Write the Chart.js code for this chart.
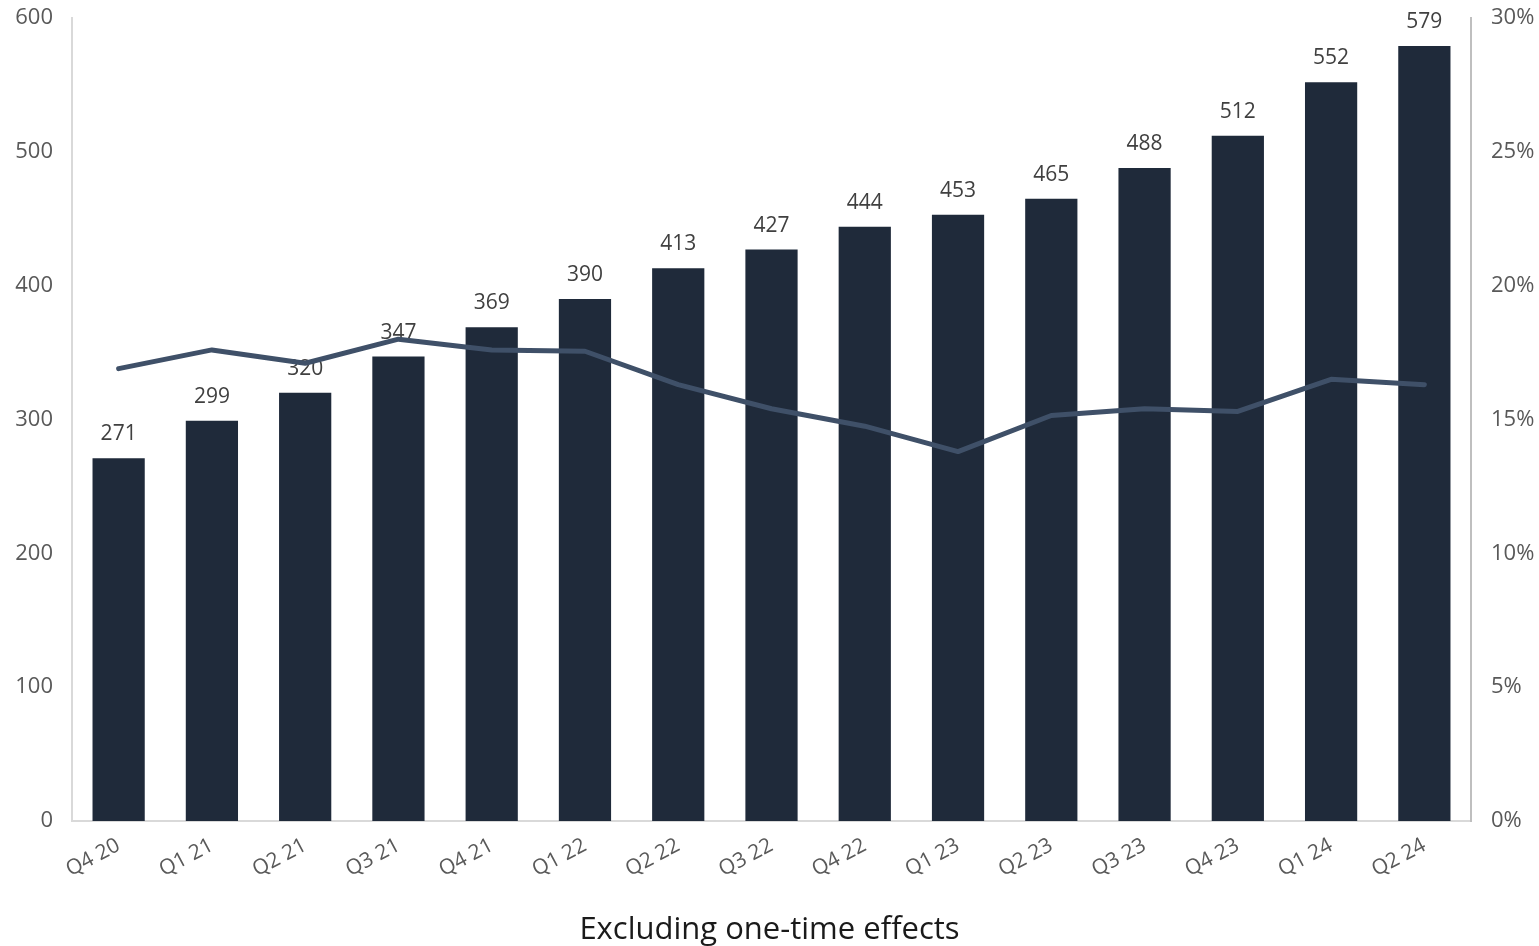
<!DOCTYPE html>
<html>
<head>
<meta charset="utf-8">
<script src="https://cdn.jsdelivr.net/npm/chart.js@4.4.0/dist/chart.umd.min.js"></script>
<style>
html,body{margin:0;padding:0;background:#fff;}
#wrap{width:1539px;height:946px;position:relative;}
</style>
</head>
<body>
<div id="wrap"><canvas id="c" width="1539" height="946"></canvas></div>
<script>
const categories = ["Q4 20","Q1 21","Q2 21","Q3 21","Q4 21","Q1 22","Q2 22","Q3 22","Q4 22","Q1 23","Q2 23","Q3 23","Q4 23","Q1 24","Q2 24"];
const barValues = [271,299,320,347,369,390,413,427,444,453,465,488,512,552,579];
const marginPct = [16.9,17.6,17.1,18.0,17.6,17.55,16.3,15.4,14.75,13.8,15.15,15.4,15.3,16.5,16.3];
const leftTicks = [0,100,200,300,400,500,600];
const rightTicks = [0,5,10,15,20,25,30];
const titleText = "Excluding one-time effects";

const FONT = "'Open Sans', sans-serif";

const barLabels = {
  id: 'barLabels',
  afterDatasetDraw(chart, args) {
    if (args.index !== 0) return;
    const ctx = chart.ctx;
    const meta = args.meta;
    ctx.save();
    ctx.font = "21px " + FONT;
    ctx.fillStyle = "#404040";
    ctx.textAlign = "center";
    ctx.textBaseline = "alphabetic";
    meta.data.forEach((el, i) => {
      ctx.fillText(String(barValues[i]), el.x, el.y - 18);
    });
    ctx.restore();
  }
};

function fixY(width) {
  return function(scale) {
    scale.width = width;
    scale.paddingTop = 0;
    scale.paddingBottom = 0;
  };
}

new Chart(document.getElementById('c'), {
  data: {
    labels: categories,
    datasets: [
      {
        type: 'bar',
        data: barValues,
        yAxisID: 'y',
        backgroundColor: '#1f2a3a',
        barPercentage: 0.56,
        categoryPercentage: 1.0,
        order: 2
      },
      {
        type: 'line',
        data: marginPct,
        yAxisID: 'y1',
        borderColor: '#3f5068',
        borderWidth: 5,
        pointRadius: 0,
        borderCapStyle: 'round',
        borderJoinStyle: 'round',
        tension: 0,
        fill: false,
        order: 1
      }
    ]
  },
  options: {
    responsive: false,
    animation: false,
    layout: { padding: { top: 18, left: 0, right: 0, bottom: 0 } },
    plugins: {
      legend: { display: false },
      tooltip: { enabled: false },
      title: {
        display: true,
        position: 'bottom',
        text: titleText,
        color: '#1a1a1a',
        font: { family: FONT, size: 31, weight: '400', lineHeight: 1.0 },
        padding: { top: 10, bottom: 0 }
      }
    },
    scales: {
      x: {
        offset: true,
        grid: { display: false, drawTicks: false },
        border: { display: true, color: '#d9d9d9', width: 2 },
        ticks: {
          color: '#595959',
          font: { family: FONT, size: 21 },
          minRotation: 28,
          maxRotation: 28,
          padding: 12
        },
        afterFit(scale) { scale.height = 84; scale.paddingLeft = 0; scale.paddingRight = 0; }
      },
      y: {
        position: 'left',
        min: 0, max: 600,
        afterBuildTicks(scale) { scale.ticks = leftTicks.map(v => ({ value: v })); },
        grid: { display: false, drawTicks: false },
        border: { display: true, color: '#d9d9d9', width: 2 },
        ticks: {
          color: '#595959',
          font: { family: FONT, size: 22 },
          padding: 19
        },
        afterFit: fixY(72)
      },
      y1: {
        position: 'right',
        min: 0, max: 30,
        afterBuildTicks(scale) { scale.ticks = rightTicks.map(v => ({ value: v })); },
        grid: { display: false, drawTicks: false },
        border: { display: true, color: '#bfbfbf', width: 2 },
        ticks: {
          color: '#595959',
          font: { family: FONT, size: 22 },
          padding: 20,
          callback: (v) => v + '%'
        },
        afterFit: fixY(68)
      }
    }
  },
  plugins: [barLabels]
});
</script>
</body>
</html>
